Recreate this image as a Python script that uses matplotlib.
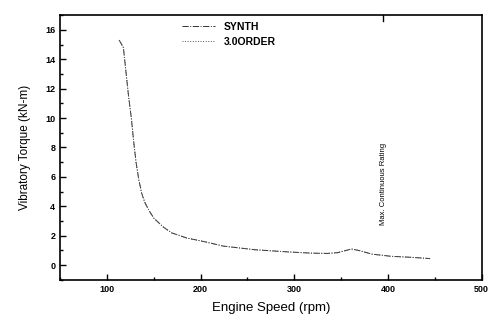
import matplotlib
matplotlib.use("Agg")
import matplotlib.pyplot as plt
from matplotlib.ticker import MultipleLocator

plt.rcParams['font.family'] = ['Liberation Sans', 'DejaVu Sans']

speed = [113, 117.5, 120.5, 123, 126, 128.5, 131, 134, 137, 140.5, 145, 150, 155, 160, 169, 185, 204, 224, 258, 294, 318, 335, 346, 355, 361, 369, 383, 404, 421, 445]
synth = [15.3, 14.8, 13.0, 11.5, 10.0, 8.4, 7.0, 5.8, 4.9, 4.25, 3.7, 3.2, 2.9, 2.6, 2.2, 1.85, 1.6, 1.3, 1.05, 0.9, 0.82, 0.8, 0.85, 1.0, 1.1, 1.0, 0.75, 0.6, 0.55, 0.45]
order3 = [15.3, 14.8, 13.0, 11.5, 10.0, 8.4, 7.0, 5.8, 4.9, 4.25, 3.7, 3.2, 2.9, 2.6, 2.2, 1.85, 1.6, 1.3, 1.05, 0.9, 0.82, 0.8, 0.85, 1.0, 1.1, 1.0, 0.75, 0.6, 0.55, 0.45]
mcr_speed = 395
mcr_label = "Max. Continuous Rating"

fig = plt.figure(figsize=(4.89, 3.21), dpi=100)
ax = fig.add_axes([0.123, 0.128, 0.862, 0.825])

ax.plot(speed, synth, linestyle='-.', color='#333333', lw=0.7, label='SYNTH')
ax.plot(speed, order3, linestyle=':', color='#555555', lw=0.7, label='3.0ORDER')

ax.set_xlim(50, 500)
ax.set_ylim(-1, 17)
ax.xaxis.set_major_locator(MultipleLocator(100))
ax.xaxis.set_minor_locator(MultipleLocator(50))
ax.yaxis.set_major_locator(MultipleLocator(2))
ax.yaxis.set_minor_locator(MultipleLocator(1))
ax.tick_params(which='both', direction='in', top=False, right=False, labelsize=6.5, width=1.0)
ax.tick_params(which='major', length=4)
ax.tick_params(which='minor', length=2.5)
for lab in ax.get_xticklabels() + ax.get_yticklabels():
    lab.set_fontweight('bold')
for sp in ax.spines.values():
    sp.set_linewidth(1.2)

ax.set_xlabel('Engine Speed (rpm)', fontsize=9.5, labelpad=6)
ax.set_ylabel('Vibratory Torque (kN-m)', fontsize=8.5, labelpad=10)

ax.text(mcr_speed, 2.7, mcr_label, rotation=90, fontsize=5.5, ha='center', va='bottom')
ax.plot([mcr_speed, mcr_speed], [16.6, 17], color='black', lw=1.0, clip_on=False)

leg = ax.legend(loc='upper center', bbox_to_anchor=(0.40, 1.01), frameon=False,
                handlelength=3.2, labelspacing=0.5, prop={'weight': 'bold', 'size': 7.5})

fig.savefig('out.png', dpi=100)
